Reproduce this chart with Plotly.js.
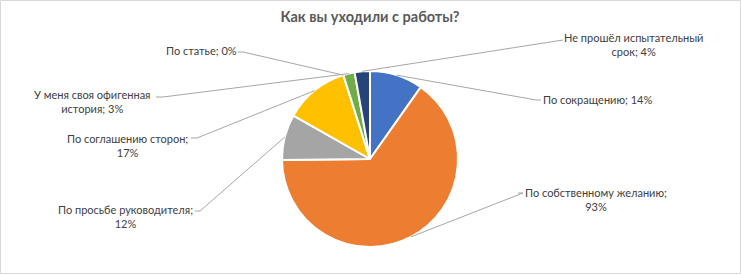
<!DOCTYPE html>
<html>
<head>
<meta charset="utf-8">
<script src="https://cdn.plot.ly/plotly-3.0.1.min.js"></script>
<style>html,body{margin:0;padding:0;background:#fff;}#chart{width:741px;height:275px;}</style>
</head>
<body>
<div id="chart"></div>
<script>
// ---- data ----
const categories = ['По сокращению', 'По собственному желанию', 'По просьбе руководителя', 'По соглашению сторон', 'По статье', 'У меня своя офигенная история', 'Не прошёл испытательный срок'];
const values = [14, 93, 12, 17, 0, 3, 4];
const pctLabels = ['14%', '93%', '12%', '17%', '0%', '3%', '4%'];
const chartTitle = 'Как вы уходили с работы?';

// ---- styling / layout (pixel positions of label blocks and leader elbows) ----
const W = 741, H = 275;
const colors = ['#4472C4', '#ED7D31', '#A5A5A5', '#FFC000', '#5B9BD5', '#70AD47', '#264478'];
const wordsOnFirstLine = [null, 3, 3, 3, null, 4, 3];
const labelPos = [ // center x, top y of text block
  [597, 91], [596, 184], [125, 201], [127, 130], [201, 42], [92, 86], [633, 29]
];
const elbow = [ // [elbow x, elbow y, end x, end y] leader near label
  [536, 100, 541, 100], [523, 193, 518, 193], [200, 211, 195, 211], [197, 138, 191, 138],
  [243, 52, 238, 52], [163, 97, 156, 97], [563, 40, 563, 40]
];
const pie = {cx: 370, cy: 159, r: 88};

const px = x => x / W, py = y => 1 - y / H;

const total = values.reduce((a, b) => a + b, 0);
let cum = 0;
const shapes = [], annotations = [];
values.forEach((v, i) => {
  const mid = (cum + v / 2) / total * 2 * Math.PI;
  cum += v;
  const ex = pie.cx + pie.r * Math.sin(mid), ey = pie.cy - pie.r * Math.cos(mid);
  const [bx, by, tx, ty] = elbow[i];
  shapes.push({type: 'line', xref: 'paper', yref: 'paper', x0: px(ex), y0: py(ey), x1: px(bx), y1: py(by), line: {color: '#a6a6a6', width: 1}});
  if (bx !== tx || by !== ty) shapes.push({type: 'line', xref: 'paper', yref: 'paper', x0: px(bx), y0: py(by), x1: px(tx), y1: py(ty), line: {color: '#a6a6a6', width: 1}});
  const words = (categories[i] + '; ' + pctLabels[i]).split(' ');
  const n = wordsOnFirstLine[i];
  const text = n ? words.slice(0, n).join(' ') + '<br>' + words.slice(n).join(' ') : words.join(' ');
  annotations.push({xref: 'paper', yref: 'paper', x: px(labelPos[i][0]), y: py(labelPos[i][1]), xanchor: 'center', yanchor: 'top', align: 'center', showarrow: false, text: text, font: {family: 'Lato, sans-serif', size: 11, color: '#404040'}});
});
shapes.push({type: 'rect', xref: 'paper', yref: 'paper', x0: px(0.5), y0: py(0.5), x1: px(740.5), y1: py(273.5), line: {color: '#d9d9d9', width: 1}});

const trace = {
  type: 'pie', values: values, labels: categories, sort: false, direction: 'clockwise', rotation: 0,
  textinfo: 'none', hoverinfo: 'label+value',
  marker: {colors: colors, line: {color: '#ffffff', width: 2}},
  domain: {x: [px(pie.cx - pie.r), px(pie.cx + pie.r)], y: [py(pie.cy + pie.r), py(pie.cy - pie.r)]},
  showlegend: false
};
const layout = {
  width: W, height: H, margin: {l: 0, r: 0, t: 0, b: 0}, paper_bgcolor: '#fff',
  title: {text: '<b>' + chartTitle + '</b>', x: 370 / W, xanchor: 'center', y: py(17), yanchor: 'middle', font: {family: 'Lato, sans-serif', size: 14.5, color: '#595959'}},
  shapes: shapes, annotations: annotations, showlegend: false
};
Plotly.newPlot('chart', [trace], layout, {displayModeBar: false, staticPlot: true});
</script>
</body>
</html>
